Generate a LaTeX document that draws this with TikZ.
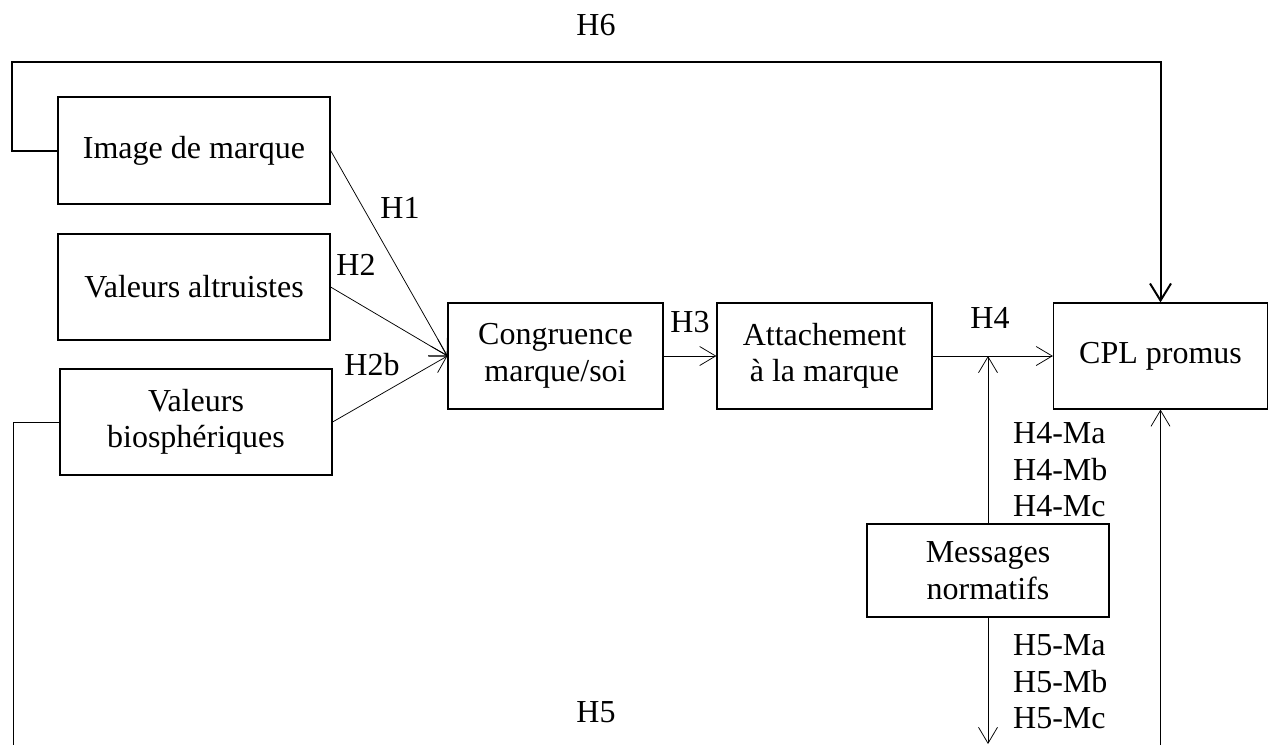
\documentclass[tikz,border=0pt]{standalone}
\usepackage{fontspec}
\setmainfont{Liberation Serif}
\usetikzlibrary{arrows.meta}
\begin{document}
\begin{tikzpicture}[x=1pt,y=-1pt,
  every node/.style={font=\fontsize{32}{36.5}\selectfont, inner sep=0pt},
  boxnode/.style={draw, line width=1.2pt, align=center},
  conn/.style={line width=0.75pt},
  arr/.style={conn, -{Straight Barb[length=16pt,width=19pt,line width=0.75pt]}},
  thickarr/.style={line width=2pt, -{Straight Barb[length=17pt,width=21pt,line width=2pt]}},
  lbl/.style={align=left}]
\useasboundingbox (0,0) rectangle (1269,745);
% boxes
\node[boxnode, minimum width=272pt, minimum height=107pt] (img) at (194,150.5) {Image de marque};
\node[boxnode, minimum width=272pt, minimum height=106pt] (alt) at (194,287) {Valeurs altruistes};
\node[boxnode, minimum width=272pt, minimum height=106pt] (bio) at (196,422) {Valeurs\\biosphériques};
\node[boxnode, minimum width=215pt, minimum height=106pt] (cong) at (555.5,356) {Congruence\\marque/soi};
\node[boxnode, minimum width=215pt, minimum height=106pt] (att) at (824.5,356) {Attachement\\à la marque};
\node[boxnode, minimum width=214pt, minimum height=106pt] (cpl) at (1160.5,356) {CPL promus};
\node[boxnode, minimum width=242pt, minimum height=93pt] (msg) at (988,570.5) {Messages\\normatifs};
% helper coordinates
\coordinate (h4m) at (988,356);
\coordinate (msgend) at (988,744);
\coordinate (h6a) at (12,150.5);
\coordinate (h6b) at (12,62);
\coordinate (h6c) at (1160.5,62);
\coordinate (h5a) at (13,422);
\coordinate (h5b) at (13,745);
\coordinate (cplin) at (1160.5,745);
% connectors
\draw[arr] (img.east) -- (cong.west);
\draw[arr] (alt.east) -- (cong.west);
\draw[arr] (bio.east) -- (cong.west);
\draw[arr] (cong.east) -- (att.west);
\draw[arr] (att.east) -- (cpl.west);
\draw[arr] (msg.north) -- (h4m);
\draw[arr] (msg.south) -- (msgend);
\draw[conn] (bio.west) -- (h5a) -- (h5b);
\draw[arr] (cplin) -- (cpl.south);
\draw[thickarr] (img.west) -- (h6a) -- (h6b) -- (h6c) -- (cpl.north);
% labels
\node (lh6) at (596,25) {H6};
\node (lh1) at (400,208) {H1};
\node (lh2) at (356,265) {H2};
\node (lh2b) at (372,365) {H2b};
\node (lh3) at (690,322) {H3};
\node (lh4) at (990,318) {H4};
\node[lbl, anchor=west] (lh4m) at (1013,470) {H4-Ma\\H4-Mb\\H4-Mc};
\node[lbl, anchor=west] (lh5m) at (1013,682) {H5-Ma\\H5-Mb\\H5-Mc};
\node (lh5) at (596,712) {H5};
\end{tikzpicture}
\end{document}
